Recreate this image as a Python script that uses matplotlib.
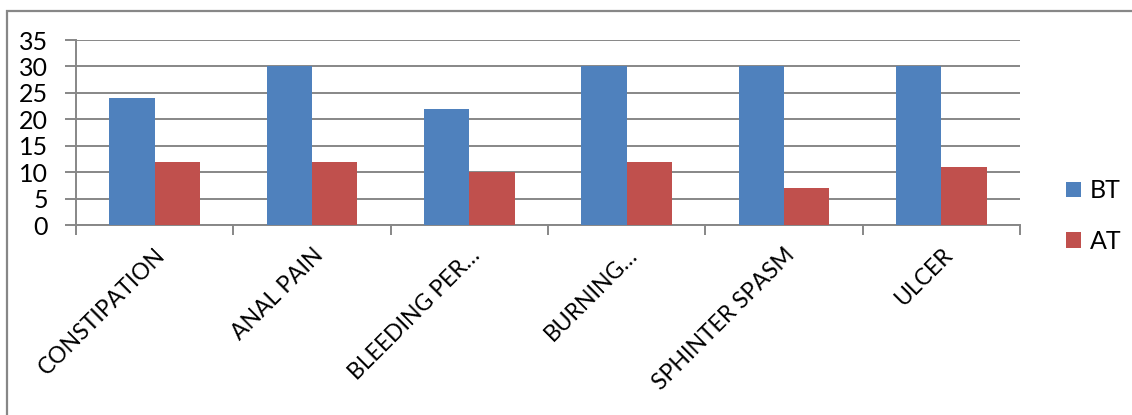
import numpy as np
import matplotlib.pyplot as plt
from matplotlib.patches import Rectangle

plt.rcParams['font.family'] = ['Lato', 'DejaVu Sans']

# Symptom scores before (BT) and after (AT) treatment
categories = ["CONSTIPATION", "ANAL PAIN", "BLEEDING PER…", "BURNING…",
              "SPHINTER SPASM", "ULCER"]
bt = [24, 30, 22, 30, 30, 30]
at = [12, 12, 10, 12, 7, 11]
yticks = [0, 5, 10, 15, 20, 25, 30, 35]

blue = "#4F81BD"
red = "#C0504D"
grey = "#878787"

fig = plt.figure(figsize=(11.32, 4.15), dpi=100)
ax = fig.add_axes([0.0671, 0.4578, 0.8340, 0.4458])

x = np.arange(len(categories))
w = 0.288
ax.bar(x - w / 2, bt, w, color=blue, label="BT", zorder=3)
ax.bar(x + w / 2, at, w, color=red, label="AT", zorder=3)

ax.set_xlim(-0.5, len(categories) - 0.5)
ax.set_ylim(0, 35)
ax.set_yticks(yticks)
ax.yaxis.grid(True, color=grey, linewidth=1.4, zorder=0)
ax.tick_params(axis='y', length=8, width=1.4, color=grey, labelsize=18, pad=12)

# category ticks sit on the boundaries, labels on the centres
ax.set_xticks(np.arange(len(categories) + 1) - 0.5)
ax.set_xticklabels([])
ax.set_xticks(x, minor=True)
ax.set_xticklabels(categories, minor=True, rotation=45, ha='right',
                   rotation_mode='anchor', fontsize=16.5)
ax.tick_params(axis='x', which='minor', length=0, pad=14)
ax.tick_params(axis='x', which='major', length=7, width=1.4, color=grey)

for side in ("top", "right"):
    ax.spines[side].set_visible(False)
for side in ("left", "bottom"):
    ax.spines[side].set_color(grey)
    ax.spines[side].set_linewidth(1.4)

fig.legend(loc='upper left', bbox_to_anchor=(0.922, 0.622),
           frameon=False, fontsize=18, handlelength=0.6,
           handleheight=0.6, handletextpad=0.35, labelspacing=1.1)

# chart area border
fig.patches.append(Rectangle((7 / 1132, -0.1), 1.2, 1 - 11 / 415 + 0.1,
                             transform=fig.transFigure, fill=False,
                             edgecolor=grey, linewidth=1.6))

fig.savefig("out.png", dpi=100)
